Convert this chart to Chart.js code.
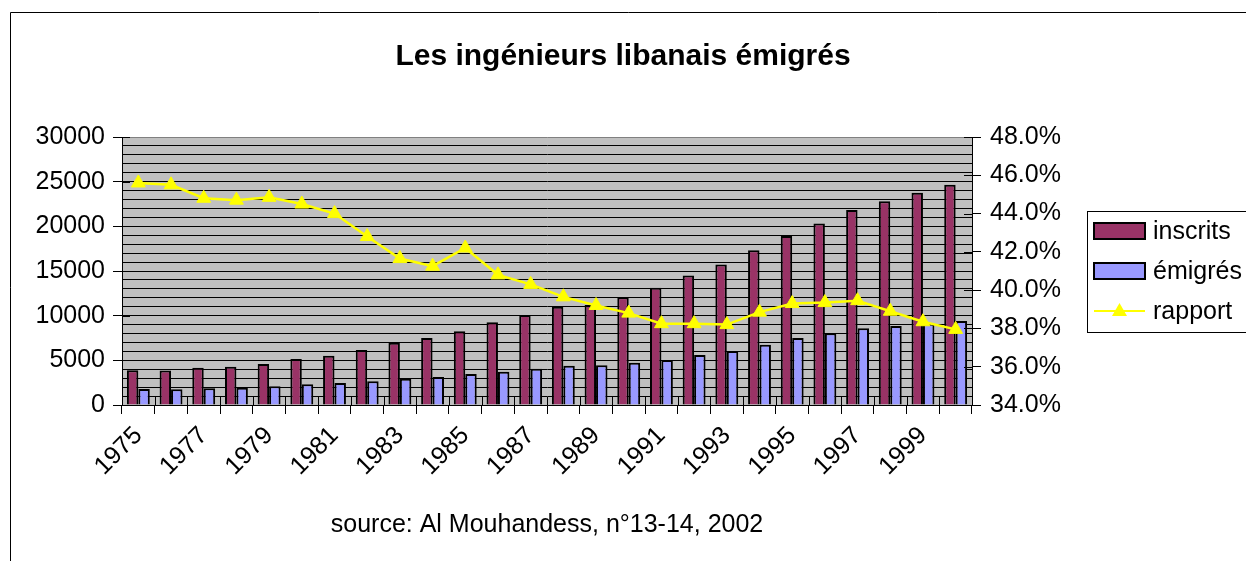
<!DOCTYPE html>
<html>
<head>
<meta charset="utf-8">
<script src="https://cdn.jsdelivr.net/npm/chart.js@4.4.0/dist/chart.umd.min.js"></script>
<style>
  html, body { margin: 0; padding: 0; background: #fff; }
  #wrap { width: 1246px; height: 561px; position: relative; }
</style>
</head>
<body>
<div id="wrap"><canvas id="engChart" width="1246" height="561"></canvas></div>
<script>
// data
var years = ['1975','1976','1977','1978','1979','1980','1981','1982','1983','1984','1985','1986','1987',
             '1988','1989','1990','1991','1992','1993','1994','1995','1996','1997','1998','1999','2000'];
var inscrits = [3900, 3850, 4180, 4290, 4590, 5150, 5520, 6150, 6980, 7500, 8250, 9250, 10070,
                11000, 11200, 12050, 13130, 14510, 15740, 17310, 18920, 20330, 21830, 22800, 23770, 24660];
var emigres = [1790, 1750, 1880, 1920, 2100, 2310, 2470, 2650, 2950, 3130, 3470, 3730, 4060,
               4400, 4450, 4740, 5040, 5600, 6040, 6750, 7500, 8020, 8580, 8840, 9100, 9400];
var rapport = [45.6, 45.5, 44.8, 44.7, 44.85, 44.5, 44.0, 42.8, 41.65, 41.25, 42.2, 40.8, 40.3,
               39.65, 39.2, 38.8, 38.25, 38.25, 38.2, 38.85, 39.3, 39.35, 39.45, 38.9, 38.35, 37.95];
var leftTicks = [0, 5000, 10000, 15000, 20000, 25000, 30000];
var rightTicks = [34, 36, 38, 40, 42, 44, 46, 48];

var FONT = '"Liberation Sans", Arial, sans-serif';

// grey plot background + outer frame
var bgPlugin = {
  id: 'bg',
  beforeDraw: function(chart) {
    var c = chart.ctx, a = chart.chartArea;
    c.save();
    c.strokeStyle = '#000';
    c.lineWidth = 1;
    c.beginPath();
    c.moveTo(10.5, 600); c.lineTo(10.5, 12.5); c.lineTo(1300, 12.5);
    c.stroke();
    c.fillStyle = '#C0C0C0';
    c.fillRect(a.left, a.top, a.right - a.left, a.bottom - a.top);
    c.restore();
  }
};

// small tick marks reaching inside the plot, like the original
var innerTicks = {
  id: 'innerTicks',
  afterDatasetsDraw: function(chart) {
    var c = chart.ctx, a = chart.chartArea;
    var x = chart.scales.x, y = chart.scales.y, y1 = chart.scales.y1;
    c.save();
    c.strokeStyle = '#000';
    c.lineWidth = 1;
    c.beginPath();
    var n = years.length, w = (a.right - a.left) / n;
    for (var i = 0; i <= n; i++) {
      var px = Math.round(x.getPixelForValue(i) - w / 2) + 0.5;
      c.moveTo(px, a.bottom); c.lineTo(px, a.bottom - 8);
    }
    leftTicks.forEach(function(v) {
      var py = Math.round(y.getPixelForValue(v)) + 0.5;
      c.moveTo(a.left, py); c.lineTo(a.left + 8, py);
    });
    rightTicks.forEach(function(v) {
      var py = Math.round(y1.getPixelForValue(v)) + 0.5;
      c.moveTo(a.right, py); c.lineTo(a.right - 8, py);
    });
    c.stroke();
    c.restore();
  }
};

// boxed legend on the right
var boxLegend = {
  id: 'boxLegend',
  afterDraw: function(chart) {
    var c = chart.ctx, a = chart.chartArea;
    var left = a.right + 115;
    var mid = (a.top + a.bottom) / 2;
    var top = mid - 60;
    c.save();
    c.strokeStyle = '#000';
    c.lineWidth = 1;
    c.strokeRect(Math.round(left) + 0.5, Math.round(top) + 0.5, 200, 121);
    c.font = '25px ' + FONT;
    c.textBaseline = 'middle';
    c.fillStyle = '#000';
    chart.data.datasets.slice().sort(function(p, q) { return p.legendIdx - q.legendIdx; }).forEach(function(ds, k) {
      var cy = top + 20 + k * 40;
      var sx = left + 7;
      if (ds.type === 'line') {
        c.strokeStyle = ds.borderColor;
        c.lineWidth = 2;
        c.beginPath(); c.moveTo(sx, cy); c.lineTo(sx + 51, cy); c.stroke();
        c.fillStyle = ds.pointBackgroundColor;
        c.beginPath();
        c.moveTo(sx + 25.5, cy - 8); c.lineTo(sx + 33, cy + 5); c.lineTo(sx + 18, cy + 5);
        c.closePath(); c.fill();
      } else {
        c.fillStyle = ds.backgroundColor;
        c.fillRect(sx, cy - 8, 51, 16);
        c.strokeStyle = '#000';
        c.lineWidth = 2;
        c.strokeRect(sx, cy - 8, 51, 16);
      }
      c.fillStyle = '#000';
      c.fillText(ds.label, sx + 59, cy + 1);
    });
    c.restore();
  }
};

var ctx = document.getElementById('engChart').getContext('2d');
var engChart = new Chart(ctx, {
  type: 'bar',
  data: {
    labels: years,
    datasets: [
      {
        type: 'line',
        label: 'rapport',
        legendIdx: 2,
        data: rapport,
        yAxisID: 'y1',
        borderColor: '#FFFF00',
        borderWidth: 2.5,
        pointStyle: 'triangle',
        pointRadius: 8,
        pointBorderWidth: 1,
        pointBackgroundColor: '#FFFF00',
        pointBorderColor: '#FFFF00',
        tension: 0,
        order: 0
      },
      {
        label: 'inscrits',
        legendIdx: 0,
        data: inscrits,
        yAxisID: 'y',
        backgroundColor: '#993366',
        borderColor: '#000',
        borderWidth: 2,
        order: 1
      },
      {
        label: 'émigrés',
        legendIdx: 1,
        data: emigres,
        yAxisID: 'y',
        backgroundColor: '#9999FF',
        borderColor: '#000',
        borderWidth: 2,
        order: 1
      }
    ]
  },
  options: {
    responsive: false,
    animation: false,
    layout: { padding: { left: 0, right: 0, top: 0, bottom: 0 } },
    datasets: {
      bar: { categoryPercentage: 0.7, barPercentage: 1.0 }
    },
    plugins: {
      legend: { display: false },
      tooltip: { enabled: false },
      title: {
        display: true,
        text: 'Les ingénieurs libanais émigrés',
        color: '#000',
        font: { family: FONT, size: 30, weight: 'bold' },
        padding: { top: 39, bottom: 62 }
      }
    },
    scales: {
      x: {
        grid: { drawOnChartArea: false, color: '#000', tickLength: 9, offset: true },
        border: { color: '#000' },
        ticks: {
          autoSkip: false,
          minRotation: 45,
          maxRotation: 45,
          padding: 7,
          color: '#000',
          font: { family: FONT, size: 25 },
          callback: function(v, i) { return i % 2 === 0 ? years[i] : ''; }
        },
        title: {
          display: true,
          text: 'source: Al Mouhandess, n°13-14, 2002',
          color: '#000',
          font: { family: FONT, size: 25 },
          padding: { top: 0, bottom: 21 }
        },
        afterFit: function(s) { s.height = 156; }
      },
      y: {
        position: 'left',
        min: 0,
        max: 30000,
        grid: {
          color: function(c) { return c.tick && c.tick.value === 30000 ? '#808080' : '#000'; },
          tickLength: 9,
          tickColor: function(c) { return c.tick && c.tick.value % 5000 === 0 ? '#000' : 'rgba(0,0,0,0)'; }
        },
        border: { color: '#000' },
        ticks: {
          stepSize: 1000,
          autoSkip: false,
          maxTicksLimit: 40,
          padding: 8,
          color: '#000',
          font: { family: FONT, size: 25 },
          callback: function(v) { return leftTicks.indexOf(v) >= 0 ? String(v) : ''; }
        },
        afterFit: function(s) { s.width = 122; }
      },
      y1: {
        position: 'right',
        min: 34,
        max: 48,
        grid: { drawOnChartArea: false, color: '#000', tickLength: 9 },
        border: { color: '#000' },
        ticks: {
          stepSize: 2,
          padding: 9,
          color: '#000',
          font: { family: FONT, size: 25 },
          callback: function(v) { return v.toFixed(1) + '%'; }
        },
        afterFit: function(s) { s.width = 274; }
      }
    }
  },
  plugins: [bgPlugin, innerTicks, boxLegend]
});
</script>
</body>
</html>
